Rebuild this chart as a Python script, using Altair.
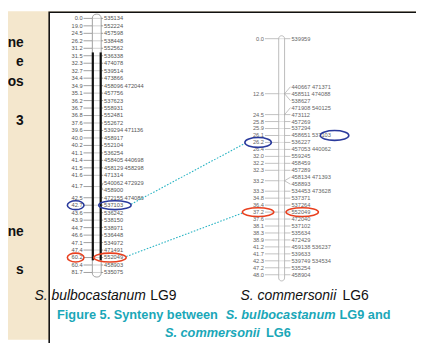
import altair as alt
import pandas as pd
import numpy as np

# ---------------- data ----------------
left_cm = ["0.0", "19.0", "24.5", "26.2", "31.2", "31.5", "32.3", "32.7", "34.4", "34.9",
           "35.1", "36.2", "36.7", "36.8", "37.6", "39.6", "40.0", "40.2", "41.1", "41.4",
           "41.5", "41.6", "41.7", "42.5", "42.7", "43.6", "43.9", "44.7", "46.6", "47.1",
           "47.4", "60.2", "60.4", "81.7"]
left_cm_row = list(range(22)) + [22.5] + list(range(24, 35))
left_markers = ["535134", "552224", "457598", "538448", "552562", "536338", "474078", "539514",
                "473866", "458096 472044", "457756", "537623", "558931", "552481", "552672",
                "539294 471136", "458917", "552104", "536254", "458405 440698", "458129 458298",
                "471314", "540062 472929", "458900", "472155 474086", "537103", "536242",
                "538150", "538971", "536448", "534972", "471491", "552049", "458903", "535075"]
left_link = list(range(22)) + [22, 22] + list(range(23, 34))

right_cm = ["0.0", "12.6", "24.5", "25.8", "25.9", "26.1", "26.2", "26.4", "32.0", "32.2",
            "32.3", "33.2", "33.3", "34.8", "36.4", "37.2", "37.6", "38.1", "38.3", "38.9",
            "41.2", "41.7", "42.3", "47.2", "48.0"]
right_cm_row = [0, 2, 5, 6, 7, 8, 9, 10, 11, 12, 13, 14.5, 16, 17, 18, 19, 20, 21, 22, 23,
                24, 25, 26, 27, 28]
right_markers = ["539959", "440667 471371", "458511 474088", "538627", "471908 540125",
                 "473112", "457269", "537294", "458651 537103", "536227", "457053 440062",
                 "559245", "458459", "457289", "458134 471393", "458893", "534453 473628",
                 "537371", "537264", "552049", "472040", "537102", "535634", "472429",
                 "459138 536237", "539633", "539749 534534", "535254", "458904"]
right_link = [0, 1, 1, 1, 2, 2, 3, 4, 5, 6, 7, 8, 9, 10, 11, 11, 12, 13, 14, 15, 16, 17, 18,
              19, 20, 21, 22, 23, 24]

# highlighted pairs: (colour, left cM idx, left marker row, right cM idx, right marker row)
links = [("#2a3a9c", 24, 25, 6, 8), ("#e8401f", 31, 32, 15, 19)]

side_words = ["ne", "e", "os", "3", "ne", "s"]
side_rows = [40, 60, 80, 120, 233, 272]

# ---------------- layout ----------------
W, H, M = 424, 343, 8
L = dict(top=15.3, step=7.62, cm_r=84, ch_l=94, ch_r=103, mk=106)
R = dict(top0=36, top1=85, step=7.1, cm_r=269, ch_l=284, ch_r=290, mk=297)


def yl(r):
    return L["top"] + r * L["step"]


def yr(r):
    return R["top0"] if r == 0 else R["top1"] + (r - 1) * R["step"]


xs = alt.Scale(domain=[M, W], nice=False, zero=False)
ys = alt.Scale(domain=[M, H], reverse=True, nice=False, zero=False)
FONT = "Liberation Sans"


def enc_xy():
    return dict(x=alt.X("x:Q", scale=xs, axis=None), y=alt.Y("y:Q", scale=ys, axis=None))


def rects(df, **kw):
    return alt.Chart(df).mark_rect(**kw).encode(x2="x2:Q", y2="y2:Q", **enc_xy())


def rules(df, **kw):
    return alt.Chart(df).mark_rule(**kw).encode(
        x2="x2:Q", y2="y2:Q", color=alt.Color("c:N", scale=None),
        strokeWidth=alt.StrokeWidth("w:Q", scale=None), **enc_xy())


def texts(df, align, **kw):
    return alt.Chart(df).mark_text(align=align, baseline="middle", font=FONT, **kw).encode(
        text="t:N", color=alt.Color("c:N", scale=None), **enc_xy())


layers = []
# background
layers.append(rects(pd.DataFrame({"x": [M], "x2": [W], "y": [M], "y2": [H]}), color="#f4e7cd"))
layers.append(rects(pd.DataFrame({"x": [50], "x2": [W + 5], "y": [9], "y2": [H + 5]}),
                    fill="white", stroke="#111", strokeWidth=1.6))
layers.append(texts(pd.DataFrame({"x": [24] * len(side_words), "y": side_rows, "t": side_words,
                                  "c": ["#111"] * len(side_words)}), "right",
                    fontSize=14, fontWeight="bold"))

# chromosomes
layers.append(rects(pd.DataFrame({"x": [L["ch_l"]], "x2": [L["ch_r"]], "y": [11], "y2": [279]}),
                    fill="white", stroke="#888", strokeWidth=0.8, cornerRadius=4))
layers.append(rects(pd.DataFrame({"x": [R["ch_l"]], "x2": [R["ch_r"]], "y": [33], "y2": [283]}),
                    fill="white", stroke="#aaa", strokeWidth=0.8, cornerRadius=3))

# connector lines
rows = []
for j, r in enumerate(left_cm_row):
    y = yl(r)
    rows.append((L["cm_r"] + 1, y, L["ch_l"], y, "#777", 0.7))
    rows.append((L["ch_l"], y, L["ch_r"], y, "#bbb", 0.7))
for i, j in enumerate(left_link):
    rows.append((L["ch_r"], yl(left_cm_row[j]), L["mk"] - 1, yl(i), "#777", 0.7))
for j, r in enumerate(right_cm_row):
    y = yr(r)
    rows.append((R["cm_r"] + 1, y, R["ch_l"], y, "#999", 0.6))
    rows.append((R["ch_l"], y, R["ch_r"], y, "#ccc", 0.6))
for i, j in enumerate(right_link):
    rows.append((R["ch_r"], yr(right_cm_row[j]), R["mk"] - 1, yr(i), "#999", 0.6))
# thick chromosome edges on the left map
rows.append((L["ch_l"] + 0.5, 50, L["ch_l"] + 0.5, 262, "#111", 2.2))
rows.append((L["ch_r"] - 0.5, 50, L["ch_r"] - 0.5, 262, "#111", 2.2))
conn = pd.DataFrame(rows, columns=["x", "y", "x2", "y2", "c", "w"])
layers.append(rules(conn))

# labels
lcm = pd.DataFrame({"x": L["cm_r"], "y": [yl(r) for r in left_cm_row], "t": left_cm, "c": "#555"})
lmk = pd.DataFrame({"x": L["mk"], "y": [yl(i) for i in range(len(left_markers))],
                    "t": left_markers, "c": "#555"})
rcm = pd.DataFrame({"x": R["cm_r"], "y": [yr(r) for r in right_cm_row], "t": right_cm, "c": "#666"})
rmk = pd.DataFrame({"x": R["mk"], "y": [yr(i) for i in range(len(right_markers))],
                    "t": right_markers, "c": "#666"})
layers.append(texts(pd.concat([lcm, rcm]), "right", fontSize=5.8))
layers.append(texts(pd.concat([lmk, rmk]), "left", fontSize=5.8))

# highlight ellipses and dotted links
ell_geom = [  # (dx of centre from column anchor, width, height) for L-cm, L-mk, R-cm, R-mk
    [(-7, 17, 9), (11, 33, 9), (-6, 27, 10), (44, 29, 10)],
    [(-7, 17, 9), (6, 33, 9), (-6, 32, 9), (11, 33, 9)],
]
ell, dots = [], []
for (col, lc, lm, rc, rm), g in zip(links, ell_geom):
    pts = [(L["cm_r"] + g[0][0], yl(left_cm_row[lc]), g[0]),
           (L["mk"] + g[1][0], yl(lm), g[1]),
           (R["cm_r"] + g[2][0], yr(right_cm_row[rc]), g[2]),
           (R["mk"] + g[3][0], yr(rm), g[3])]
    for x, y, (dx, w, h) in pts:
        r = h / w
        ell.append((x, y, f"M-1,0A1,{r:.3f} 0 1,1 1,0A1,{r:.3f} 0 1,1 -1,0Z", w * w, col))
    dots.append((pts[1][0] + pts[1][2][1] / 2, pts[1][1] - 1,
                 pts[2][0] - pts[2][2][1] / 2, pts[2][1] + 1, "#27b3c3", 1.1))
dots_df = pd.DataFrame(dots, columns=["x", "y", "x2", "y2", "c", "w"])
layers.append(rules(dots_df, strokeDash=[1.6, 1.6]))
ell_df = pd.DataFrame(ell, columns=["x", "y", "p", "s", "c"])
layers.append(alt.Chart(ell_df).mark_point(filled=False, strokeWidth=1.6, opacity=1).encode(
    shape=alt.Shape("p:N", scale=None), size=alt.Size("s:Q", scale=None),
    color=alt.Color("c:N", scale=None), **enc_xy()))

# species names
sp_it = pd.DataFrame({"x": [35, 245], "y": [298, 298], "t": ["S. bulbocastanum", "S. commersonii"],
                      "c": "#111"})
sp_n = pd.DataFrame({"x": [153, 349], "y": [298, 298], "t": ["LG9", "LG6"], "c": "#111"})
layers.append(texts(sp_it, "left", fontSize=14.2, fontStyle="italic"))
layers.append(texts(sp_n, "left", fontSize=14.2))

# figure caption
TEAL = "#1aa7b8"
cap_n = pd.DataFrame({"x": [58, 346, 271], "y": [318, 318, 336],
                      "t": ["Figure 5. Synteny between", "LG9  and", "LG6"], "c": TEAL})
cap_i = pd.DataFrame({"x": [230, 168], "y": [318, 336],
                      "t": ["S. bulbocastanum", "S. commersonii"], "c": TEAL})
layers.append(texts(cap_n, "left", fontSize=13, fontWeight="bold"))
layers.append(texts(cap_i, "left", fontSize=13, fontWeight="bold", fontStyle="italic"))

chart = alt.layer(*layers).properties(
    width=W - M, height=H - M, padding=0, autosize=alt.AutoSizeParams(type="none")
).configure_view(stroke=None)

chart.save("out.html", embed_options={"renderer": "svg", "actions": False})
